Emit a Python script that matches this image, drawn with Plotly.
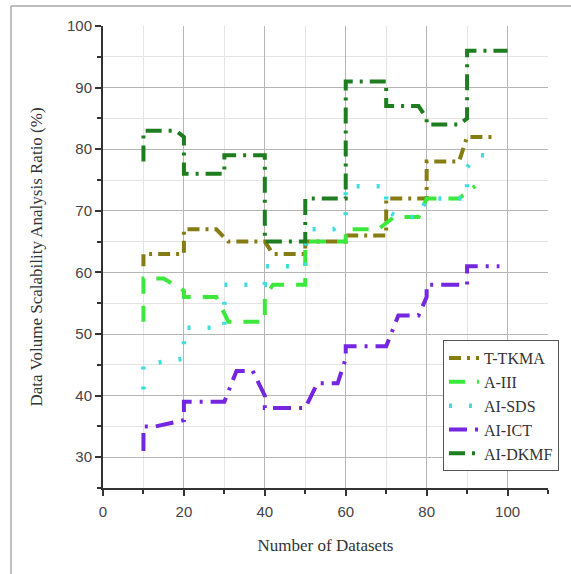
import plotly.graph_objects as go

# ---- data ----
tkma_x = [10, 10, 18, 20, 20, 28, 31, 40, 42, 50, 50, 60, 60, 70, 70, 80, 80, 88, 90, 97]
tkma_y = [61, 63, 63, 63, 67, 67, 65, 65, 63, 63, 65, 65, 66, 66, 72, 72, 78, 78, 82, 82]

aiii_x = [10, 10, 15, 20, 20, 28, 31, 40, 40, 42, 50, 50, 60, 60, 68, 70, 72, 78, 80, 88, 92]
aiii_y = [52, 59, 59, 57, 56, 56, 52, 52, 56, 58, 58, 65, 65, 67, 67, 68, 69, 69, 72, 72, 74]

sds_x = [10, 10, 20, 20, 30, 30, 40, 40, 50, 50, 51, 57, 60, 60, 70, 70, 73, 78, 80, 90, 90, 92, 98]
sds_y = [41, 45, 46, 51, 51, 58, 58, 61, 61, 64, 67, 67, 69, 74, 74, 70, 69, 69, 72, 72, 77, 79, 79]

ict_x = [10, 10, 13, 20, 20, 30, 33, 37, 40, 40, 50, 53, 58, 60, 60, 70, 73, 78, 80, 80, 90, 90, 98]
ict_y = [31, 35, 35, 36, 39, 39, 44, 44, 40, 38, 38, 42, 42, 46, 48, 48, 53, 53, 56, 58, 58, 61, 61]

dkmf_x = [10, 10, 18, 20, 20, 30, 30, 40, 40, 50, 50, 60, 60, 70, 70, 78, 80, 80, 88, 90, 90, 100]
dkmf_y = [78, 83, 83, 82, 76, 76, 79, 79, 65, 65, 72, 72, 91, 91, 87, 87, 85, 84, 84, 85, 96, 96]

series_names = ["T-TKMA", "A-III", "AI-SDS", "AI-ICT", "AI-DKMF"]
x_tick_vals = [0, 20, 40, 60, 80, 100]
y_tick_vals = [30, 40, 50, 60, 70, 80, 90, 100]

# ---- styles ----
styles = [
    dict(color="#857c14", dash="12px,6px,3px,6px", width=4),
    dict(color="#3ce83c", dash="16px,12px", width=4),
    dict(color="#3fdede", dash="3px,17px", width=4.5),
    dict(color="#7426e0", dash="18px,8px,3px,8px", width=4),
    dict(color="#1e7d1e", dash="16px,7px,3px,7px", width=4),
]

data = [(tkma_x, tkma_y), (aiii_x, aiii_y), (sds_x, sds_y), (ict_x, ict_y), (dkmf_x, dkmf_y)]

fig = go.Figure()
for name, (xs, ys), st in zip(series_names, data, styles):
    fig.add_trace(go.Scatter(x=xs, y=ys, mode="lines", name=name, line=st))

serif = "Liberation Serif, Times New Roman, serif"
sans = "Liberation Sans, Arial, sans-serif"

fig.update_layout(
    width=571, height=574,
    margin=dict(l=103, r=23, t=26, b=86),
    paper_bgcolor="white", plot_bgcolor="white",
    showlegend=True,
    legend=dict(
        x=0.764, y=0.32, xanchor="left", yanchor="top",
        bgcolor="white", bordercolor="#555555", borderwidth=1,
        font=dict(family=serif, size=16, color="#333333"),
        itemwidth=30,
    ),
    xaxis=dict(
        range=[0, 110], tickvals=x_tick_vals,
        showline=True, linecolor="#333333", linewidth=2,
        ticks="outside", ticklen=6, tickwidth=2, tickcolor="#333333",
        showgrid=True, gridcolor="#b5b5b5", gridwidth=1,
        minor=dict(dtick=10, tick0=0, ticks="outside", ticklen=4, tickwidth=2,
                   tickcolor="#333333", showgrid=True, gridcolor="#e4e4e4"),
        tickfont=dict(family=sans, size=15, color="#444444"),
        ticklabelstandoff=3,
        title=dict(text="Number of Datasets", font=dict(family=serif, size=17, color="#333333"), standoff=20),
        zeroline=False,
    ),
    yaxis=dict(
        range=[25, 100], tickvals=y_tick_vals,
        showline=True, linecolor="#333333", linewidth=2,
        ticks="outside", ticklen=6, tickwidth=2, tickcolor="#333333",
        showgrid=True, gridcolor="#b5b5b5", gridwidth=1,
        minor=dict(dtick=5, tick0=0, ticks="outside", ticklen=4, tickwidth=2,
                   tickcolor="#333333", showgrid=True, gridcolor="#e4e4e4"),
        tickfont=dict(family=sans, size=15, color="#444444"),
        title=dict(text="Data Volume Scalability Analysis Ratio (%)",
                   font=dict(family=serif, size=17, color="#333333"), standoff=20),
        zeroline=False,
    ),
)

# light frame around the whole picture (only top and left edges visible)
frame_color = "#a8a8a8"
fig.add_shape(type="line", xref="paper", yref="paper",
              x0=(11 - 103) / 445, x1=(571 - 103) / 445,
              y0=(488 - 6) / 462, y1=(488 - 6) / 462,
              line=dict(color=frame_color, width=1.5), layer="above")
fig.add_shape(type="line", xref="paper", yref="paper",
              x0=(11 - 103) / 445, x1=(11 - 103) / 445,
              y0=(488 - 574) / 462, y1=(488 - 6) / 462,
              line=dict(color=frame_color, width=1.5), layer="above")

fig.write_html("out.html", config={"displayModeBar": False},
               post_script="document.body.style.margin='0';")
